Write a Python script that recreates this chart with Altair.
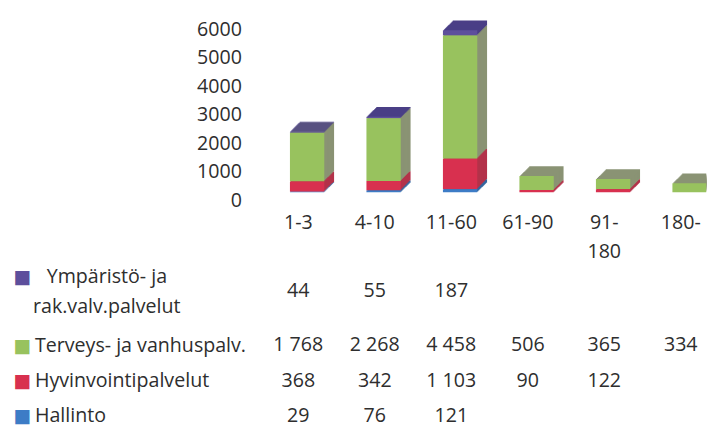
import altair as alt
import pandas as pd

# ---------------- data ----------------
categories = ["1-3", "4-10", "11-60", "61-90", "91-180", "180-"]
series = [
    "Ympäristö- ja rak.valv.palvelut",
    "Terveys- ja vanhuspalv.",
    "Hyvinvointipalvelut",
    "Hallinto",
]
ymparisto = [44, 55, 187, None, None, None]
terveys = [1768, 2268, 4458, 506, 365, 334]
hyvinvointi = [368, 342, 1103, 90, 122, None]
hallinto = [29, 76, 121, None, None, None]
y_ticks = [0, 1000, 2000, 3000, 4000, 5000, 6000]

front_colors = ["#5d4f9c", "#98c25e", "#d8304f", "#3d7cc6"]
side_colors = ["#4a3f86", "#8a9374", "#b3324a", "#33669f"]

values_by_series = [ymparisto, terveys, hyvinvointi, hallinto]
rows = []
for s_idx, (name, vals) in enumerate(zip(series, values_by_series)):
    for cat, v in zip(categories, vals):
        if v is None:
            continue
        rows.append({"category": cat, "series": name, "value": v,
                     "rank": len(series) - 1 - s_idx})
df = pd.DataFrame(rows)
df_series = pd.DataFrame({"series": series})
df_ticks = pd.DataFrame({"tick": y_ticks})

FONT = "Open Sans"
TXT = "#2e2e2e"
YMP = series[0]
IS_YMP = "datum.value == '" + YMP + "'"

# ---------------- scales ----------------
x_scale = alt.Scale(domain=categories, range=[0, 468], paddingInner=0, paddingOuter=0)
y_scale = alt.Scale(domain=[0, 6350], nice=False, zero=True)
tick_scale = alt.Scale(domain=[0, 6000], range=[187, 12.5], nice=False)
row_scale = alt.Scale(domain=series, type="point", padding=0)

x_axis = alt.Axis(
    title=None, domain=False, ticks=False, tickSize=0, grid=False,
    labelAngle=0, labelFont=FONT, labelFontSize=20, labelColor=TXT,
    labelPadding=21, labelLineHeight=29,
    labelExpr="datum.value == '91-180' ? ['91-', '180'] : datum.label",
)
y_axis = alt.Axis(
    title=None, values=y_ticks, format="d", domain=False, ticks=False, tickSize=0, grid=False,
    labelFont=FONT, labelFontSize=20, labelColor=TXT, labelPadding=19,
)


def bar_layer(colors, dx, dy):
    return alt.Chart(df).mark_bar(size=35, xOffset=dx, yOffset=dy, clip=True).encode(
        x=alt.X("category:N", scale=x_scale, sort=categories, axis=x_axis),
        y=alt.Y("value:Q", stack="zero", scale=y_scale, axis=None),
        color=alt.Color("series:N", scale=alt.Scale(domain=series, range=colors), legend=None),
        order=alt.Order("rank:Q"),
    )


back_layers = [bar_layer(side_colors, 9 + k, -k) for k in range(10, 0, -1)]
front_layer = bar_layer(front_colors, 9, 0)
tick_layer = alt.Chart(df_ticks).mark_point(opacity=0).encode(
    y=alt.Y("tick:Q", scale=tick_scale, axis=y_axis)
)

top = alt.layer(*back_layers, front_layer, tick_layer).resolve_scale(
    color="independent", y="independent"
).properties(width=455, height=179)

# ---------------- data table ----------------
names_axis = alt.Axis(
    title=None, orient="left", domain=False, ticks=False, tickSize=0, grid=False,
    labelAlign="left", labelBaseline="middle", labelLimit=500,
    labelFont=FONT, labelFontSize=20, labelColor=TXT,
    labelExpr=IS_YMP + " ? 'Ympäristö- ja' : datum.label",
    labelPadding={"condition": {"test": IS_YMP, "value": 218}, "value": 230},
    labelOffset={"condition": {"test": IS_YMP, "value": -34}, "value": 0},
)
second_line_axis = alt.Axis(
    title=None, orient="left", domain=False, ticks=False, tickSize=0, grid=False,
    labelAlign="left", labelBaseline="middle", labelLimit=500, labelPadding=232,
    labelFont=FONT, labelFontSize=20, labelColor=TXT, labelOffset=-4,
    labelExpr=IS_YMP + " ? 'rak.valv.palvelut' : ''",
)
squares_axis = alt.Axis(
    title=None, orient="left", domain=False, ticks=False, tickSize=0, grid=False,
    labelAlign="left", labelBaseline="middle", labelPadding=252,
    labelFont="DejaVu Sans", labelFontSize=19,
    labelExpr="'\u25a0'",
    labelColor={
        "condition": [
            {"test": "datum.value == '" + series[1] + "'", "value": front_colors[1]},
            {"test": "datum.value == '" + series[2] + "'", "value": front_colors[2]},
            {"test": "datum.value == '" + series[3] + "'", "value": front_colors[3]},
        ],
        "value": front_colors[0],
    },
    labelOffset={"condition": {"test": IS_YMP, "value": -34}, "value": 0},
)

text_base = alt.Chart(df).transform_calculate(
    label="replace(format(datum.value, ','), ',', ' ')"
)
values_main = text_base.transform_filter(f"datum.series != '{YMP}'").mark_text(
    font=FONT, fontSize=20, color=TXT, baseline="middle"
).encode(
    x=alt.X("category:N", scale=x_scale, sort=categories, axis=None),
    y=alt.Y("series:N", scale=row_scale, axis=names_axis),
    text="label:N",
)
values_ymp = text_base.transform_filter(f"datum.series == '{YMP}'").mark_text(
    font=FONT, fontSize=20, color=TXT, baseline="middle", dy=-19
).encode(
    x=alt.X("category:N", scale=x_scale, sort=categories, axis=None),
    y=alt.Y("series:N", scale=row_scale, axis=None),
    text="label:N",
)
squares = alt.Chart(df_series).mark_point(opacity=0).encode(
    y=alt.Y("series:N", scale=row_scale, axis=squares_axis),
)
second_line = alt.Chart(df_series).mark_point(opacity=0).encode(
    y=alt.Y("series:N", scale=row_scale, axis=second_line_axis),
)

table = alt.layer(values_main, values_ymp, squares, second_line).resolve_axis(
    y="independent"
).properties(width=455, height=108)

chart = alt.vconcat(top, table, spacing=120, bounds="flush").properties(
    padding={"left": 5, "top": 5, "right": 0, "bottom": 0},
    background="white",
).configure_view(stroke=None)

chart.save("out.html", embed_options={"renderer": "svg", "actions": False})
